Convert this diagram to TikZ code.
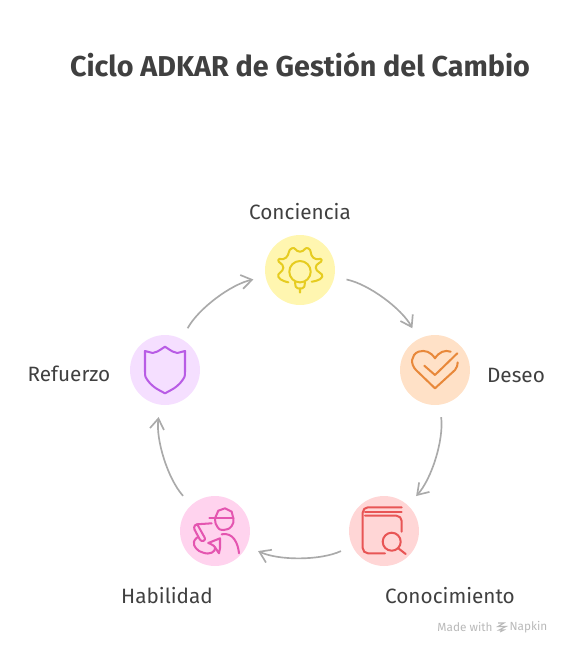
\documentclass[tikz,border=0pt]{standalone}
\usepackage{fontspec}
\setmainfont{Fira Sans}
\usepackage{xcolor}
\usetikzlibrary{arrows.meta, positioning}
\definecolor{cink}    {RGB}{64,64,64}
\definecolor{cline}   {RGB}{170,170,170}
\definecolor{cyellow} {RGB}{230,204,32}
\definecolor{corange} {RGB}{232,136,58}
\definecolor{cred}    {RGB}{232,85,85}
\definecolor{cpink}   {RGB}{228,85,176}
\definecolor{cpurple} {RGB}{184,92,229}
\definecolor{fyellow} {RGB}{255,246,176}
\definecolor{forange} {RGB}{255,225,199}
\definecolor{fred}    {RGB}{255,214,214}
\definecolor{fpink}   {RGB}{255,211,238}
\definecolor{fpurple} {RGB}{245,223,255}
\tikzset{
  phase/.style={circle, fill=#1, minimum size=1.4cm, inner sep=0pt, outer sep=0.25cm},
  arr/.style={-{Straight Barb[length=6pt,width=8pt]}, line width=0.95pt, color=cline,
              bend left=25, looseness=0.7},
  lbl/.style={font=\fontsize{11.8}{14}\selectfont, text=cink},
  ico/.style={draw=#1, line width=1.15pt, line cap=round, line join=round},
  credit/.style={font=\fontsize{6.7}{8}\selectfont, text=gray!55},
}

\begin{document}
\begin{tikzpicture}[x=0.02cm, y=-0.02cm]
  \useasboundingbox (0,0) rectangle (572,654);

  % ── Title ──────────────────────────────────────────────────────────────────
  \node[font=\fontsize{16.35}{19}\selectfont\bfseries, text=cink] at (300,65) (title)
    {Ciclo ADKAR de Gestión del Cambio};

  % ── Nodes ──────────────────────────────────────────────────────────────────
  \node[phase=fyellow] at (300,270) (conciencia) {};
  \node[phase=forange] at (435,370) (deseo)      {};
  \node[phase=fred]    at (384,531) (conoc)      {};
  \node[phase=fpink]   at (215,531) (habil)      {};
  \node[phase=fpurple] at (165,370) (refuerzo)   {};

  % ── Labels ─────────────────────────────────────────────────────────────────
  \node[lbl] at (300,212) (lconciencia) {Conciencia};
  \node[lbl] at (516,375) (ldeseo)      {Deseo};
  \node[lbl] at (450,596) (lconoc)      {Conocimiento};
  \node[lbl] at (167,596) (lhabil)      {Habilidad};
  \node[lbl] at (69,374)  (lrefuerzo)   {Refuerzo};

  % ── Arrows ─────────────────────────────────────────────────────────────────
  \draw[arr] (conciencia) to (deseo);
  \draw[arr] (deseo)      to (conoc);
  \draw[arr] (conoc)      to (habil);
  \draw[arr] (habil)      to (refuerzo);
  \draw[arr] (refuerzo)   to (conciencia);

  % ── Icons ──────────────────────────────────────────────────────────────────
  % gear and bulb
  \draw[ico=cyellow] plot[smooth, tension=1] coordinates {(311.7,281.7) (322.3,276.7) (315.7,267.7)
    (321.7,260) (313.3,257.7) (308.3,248.3) (300,251.7) (291.7,248.3) (286,257.7) (278.3,260)
    (283.3,267.7) (278.3,276.7) (288.3,282.3)};
  \draw[ico=cyellow] (300,271.7) circle (10.7);
  \draw[ico=cyellow] (295,282.3) -- (295.7,286.7) -- (297.7,288.3) -- (302.3,288.3)
    -- (304.3,286.7) -- (305,282.3) (300,288.3) -- (300,292.7);
  % heart and check
  \draw[ico=corange] (450.7,351.7) .. controls (445,349.5) and (439,352) .. (435,358.3)
    .. controls (431,352) and (425,349.5) .. (418.3,351.7)
    .. controls (411,355) and (410,364) .. (416,370)
    -- (435,388.3) -- (455,370) .. controls (457,367.5) and (457.7,365) .. (457.7,362.3);
  \draw[ico=corange] (424.3,365.7) -- (435,375) -- (457.3,353.3);
  % book and lens
  \draw[ico=cred, rounded corners=3pt] (385,553.3) -- (362.7,553.3) -- (362.7,507.3) -- (401.7,507.3);
  \draw[ico=cred] (401.7,511.7) -- (365,511.7);
  \draw[ico=cred, rounded corners=3pt] (365,515.7) -- (401.7,515.7) -- (401.7,531.7);
  \draw[ico=cred] (391.7,541.7) circle (9);
  \draw[ico=cred] (398.3,548.3) -- (405.7,554);
  % person with megaphone
  \draw[ico=cpink] (215,518.3) -- (218.3,510.7) -- (225,508.3) -- (231.7,511.7) -- (233.3,518.3);
  \draw[ico=cpink] (209.3,518.3) -- (233.3,518.3);
  \draw[ico=cpink] (233.3,518.3) .. controls (233.5,523) .. (231.7,526)
    .. controls (229,529) .. (223.3,530) .. controls (219,529.5) .. (217.3,526.7)
    .. controls (215.5,524) .. (215,518.3);
  \draw[ico=cpink] (221.7,534.3) .. controls (233,532) and (238,543) .. (239,553.3);
  \draw[ico=cpink] (208.3,543) -- (220,538.3) -- (220,548.3) -- (219,553.3) -- (215,547.3);
  \draw[ico=cpink, rounded corners=1.5pt] (193.3,527.3) -- (196.7,523.3) -- (206,540) -- (201,541.7) -- cycle;
  \draw[ico=cpink] (196.7,524.3) -- (211.7,523.3);
  \draw[ico=cpink] plot[smooth, tension=0.8] coordinates {(198.3,536.7) (194,541.7) (196,548.3)
    (203.3,552.7) (211.7,552.7) (215,547.3) (208.3,543)};
  % shield
  \draw[ico=cpurple] (145,351) .. controls (148,352) .. (152.7,353)
    .. controls (157,352) .. (165,346.7) .. controls (173,352) .. (177.3,353)
    .. controls (182,352) .. (185,351) -- (185,371.7)
    .. controls (185,377) .. (180,383.3) .. controls (175,388) .. (165,393.3)
    .. controls (155,388) .. (150,383.3) .. controls (145,377) .. (145,371.7) -- cycle;

  % ── Credit ─────────────────────────────────────────────────────────────────
  \node[credit] at (465,627) (made) {Made with};
  \node[credit] at (528.5,627) (napkin) {Napkin};
  \draw[gray!55, line width=0.6pt] (498,623) -- (504,623) -- (498,626.5) -- (506,626.5)
    -- (499,630) -- (504,630) -- (500,632);
\end{tikzpicture}
\end{document}
